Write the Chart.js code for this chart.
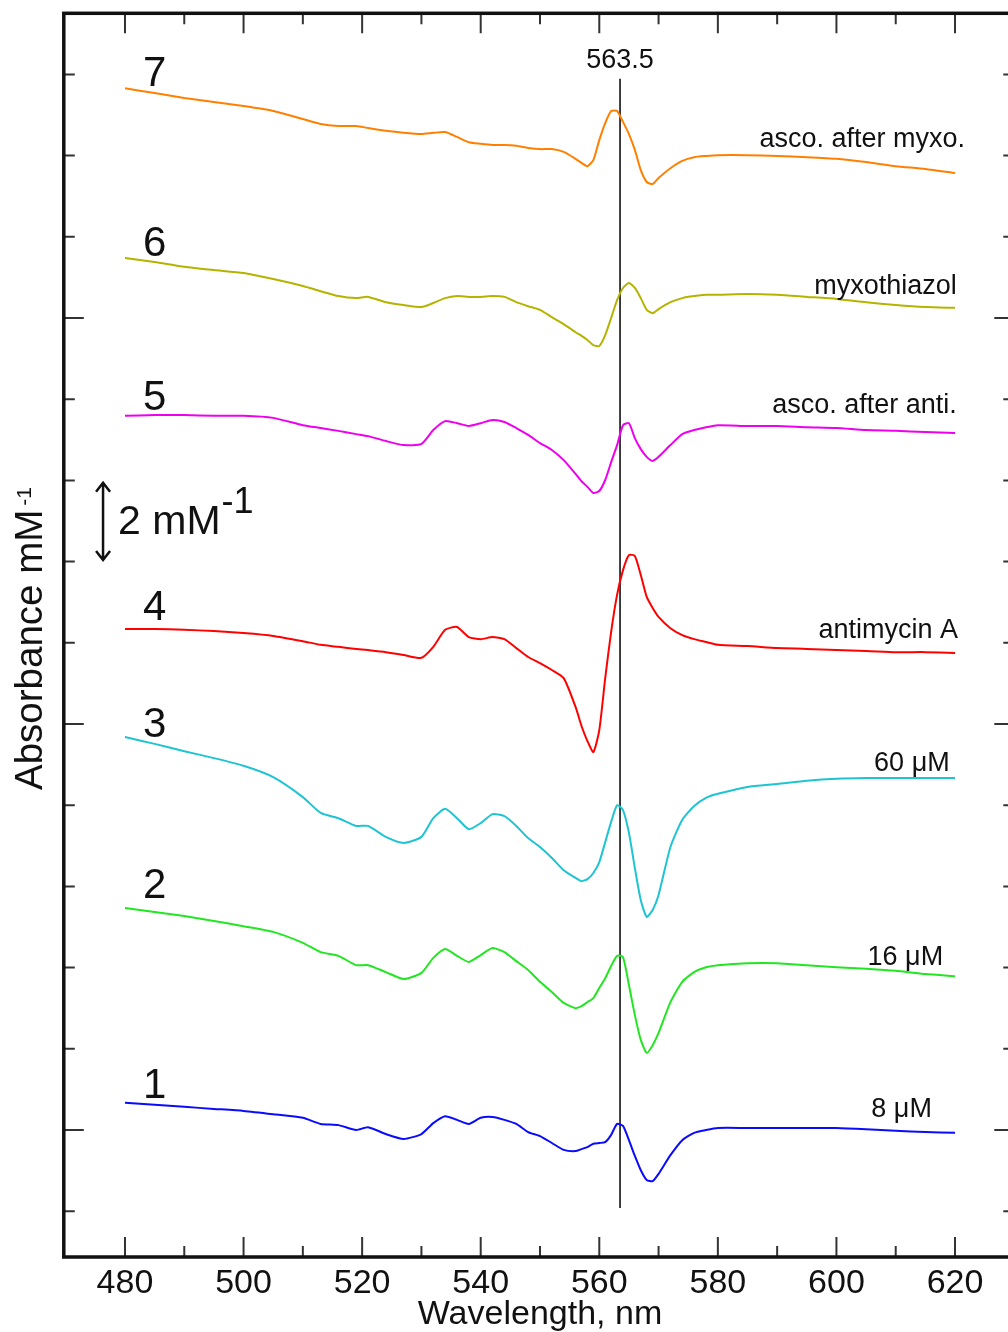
<!DOCTYPE html>
<html><head><meta charset="utf-8">
<script src="https://cdn.jsdelivr.net/npm/chart.js@4.4.0/dist/chart.umd.min.js"></script>
<style>
html,body{margin:0;padding:0;background:#fff;overflow:hidden;width:1008px;height:1332px}
canvas{display:block}
</style></head>
<body><canvas id="c" width="1030" height="1332"></canvas>
<script>
// Wavelength grid (nm)
const wavelengths = [480,485,490,495,500,505,510,513,516,519,521,524,527,530,532,534,536,538,540,542,544,546,548,550,552,554,556,557,558,559,560,561,562,563,564,565,566,567,568,569,570,572,574,576,578,580,585,590,595,600,605,610,615,620];

// Absorbance (mM^-1, traces offset vertically as in the figure)
const trace1 = [0.67,0.62,0.57,0.52,0.47,0.39,0.30,0.15,0.12,0.00,0.07,-0.10,-0.22,-0.10,0.17,0.34,0.25,0.15,0.30,0.32,0.25,0.15,-0.05,-0.15,-0.32,-0.49,-0.52,-0.47,-0.42,-0.34,-0.32,-0.30,-0.12,0.15,0.10,-0.25,-0.64,-0.99,-1.23,-1.26,-1.08,-0.62,-0.25,-0.07,0.00,0.05,0.05,0.05,0.05,0.05,0.02,-0.02,-0.05,-0.07];
const trace2 = [5.47,5.37,5.27,5.15,5.02,4.88,4.61,4.38,4.29,4.06,4.06,3.89,3.72,3.87,4.24,4.46,4.29,4.14,4.31,4.48,4.38,4.16,3.94,3.65,3.40,3.13,3.00,3.05,3.15,3.25,3.50,3.74,4.04,4.29,4.26,3.57,2.83,2.22,1.90,2.09,2.39,3.15,3.65,3.89,4.01,4.06,4.11,4.11,4.06,4.01,3.97,3.92,3.84,3.79];
const trace3 = [9.68,9.51,9.33,9.16,8.97,8.69,8.20,7.81,7.68,7.49,7.49,7.22,7.07,7.22,7.68,7.91,7.68,7.41,7.56,7.78,7.73,7.49,7.19,6.97,6.70,6.40,6.21,6.13,6.18,6.33,6.60,7.09,7.59,8.00,7.88,7.32,6.45,5.66,5.25,5.42,5.79,6.97,7.64,7.98,8.18,8.28,8.45,8.52,8.60,8.65,8.67,8.67,8.67,8.67];
const trace4 = [12.34,12.34,12.32,12.29,12.24,12.17,12.04,11.95,11.90,11.85,11.82,11.77,11.70,11.63,11.90,12.32,12.39,12.14,12.09,12.14,12.09,11.87,11.65,11.50,11.33,11.13,10.42,9.95,9.58,9.31,9.85,11.13,12.27,13.18,13.79,14.16,14.14,13.67,13.13,12.86,12.64,12.36,12.19,12.09,12.02,11.95,11.92,11.87,11.85,11.82,11.80,11.77,11.77,11.75];
const trace5 = [17.59,17.61,17.61,17.59,17.59,17.54,17.36,17.29,17.22,17.14,17.09,16.97,16.87,16.90,17.24,17.46,17.41,17.34,17.41,17.49,17.44,17.29,17.12,16.92,16.75,16.50,16.16,15.98,15.84,15.69,15.74,16.01,16.45,16.87,17.36,17.41,17.04,16.77,16.58,16.48,16.58,16.87,17.14,17.24,17.31,17.36,17.34,17.34,17.31,17.29,17.24,17.22,17.19,17.17];
const trace6 = [21.48,21.38,21.26,21.18,21.11,20.96,20.79,20.66,20.54,20.49,20.52,20.39,20.32,20.27,20.37,20.49,20.54,20.52,20.52,20.54,20.52,20.39,20.29,20.20,20.02,19.85,19.65,19.56,19.46,19.33,19.31,19.58,20.00,20.44,20.74,20.86,20.74,20.49,20.20,20.12,20.22,20.39,20.49,20.54,20.57,20.57,20.59,20.57,20.52,20.47,20.39,20.32,20.27,20.25];
const trace7 = [25.66,25.54,25.42,25.32,25.22,25.10,24.90,24.78,24.73,24.73,24.68,24.61,24.56,24.53,24.56,24.58,24.46,24.33,24.29,24.26,24.26,24.24,24.19,24.16,24.16,24.09,23.92,23.82,23.74,23.89,24.38,24.80,25.10,25.10,24.83,24.53,24.14,23.64,23.35,23.30,23.45,23.69,23.87,23.96,23.99,24.01,24.01,23.99,23.96,23.92,23.84,23.74,23.67,23.57];

const traces = [trace1, trace2, trace3, trace4, trace5, trace6, trace7];
const traceColors = ['#0a0aff','#22e622','#1ec4d2','#ff0000','#ee00ee','#b4b400','#ff8000'];
const traceNumbers = ['1','2','3','4','5','6','7'];
const traceNumberY = [0.79, 5.71, 9.68, 12.56, 17.73, 21.53, 25.71];
const traceNotes = ['8 \u03bcM','16 \u03bcM','60 \u03bcM','antimycin A','asco. after anti.','myxothiazol','asco. after myxo.'];
const traceNoteX = [616.1, 618.0, 619.1, 620.5, 620.3, 620.3, 621.7];
const traceNoteY = [0.32, 4.06, 8.84, 12.12, 17.66, 20.59, 24.21];

const xTickValues = [480,490,500,510,520,530,540,550,560,570,580,590,600,610,620];
const xTickLabels = [480,500,520,540,560,580,600,620];
const yTickValues = [-2,0,2,4,6,8,10,12,14,16,18,20,22,24,26];
const yMajorTicks = [0,10,20];

const markerWavelength = 563.5;
const markerRange = [-1.92, 25.89];
const scaleBar = {x: 476.3, from: 14.04, to: 15.94, label: '2 mM', sup: '-1'};

const FONT = '"Liberation Sans", Arial, Helvetica, sans-serif';

const datasets = traces.map((t, i) => ({
  data: wavelengths.map((w, j) => ({x: w, y: t[j]})),
  borderColor: traceColors[i],
  borderWidth: 2,
  pointRadius: 0,
  tension: 0.2,
  fill: false
}));
datasets.push({
  data: markerRange.map(v => ({x: markerWavelength, y: v})),
  borderColor: '#000',
  borderWidth: 1.5,
  pointRadius: 0,
  fill: false
});

const decor = {
  id: 'decor',
  afterDraw(chart) {
    const ctx = chart.ctx, xs = chart.scales.x, ys = chart.scales.y, a = chart.chartArea;
    ctx.save();
    // ticks (inward, all four sides)
    ctx.strokeStyle = '#333';
    ctx.lineWidth = 2;
    xTickValues.forEach(v => {
      const px = xs.getPixelForValue(v);
      const len = (v % 20 === 0) ? 20 : 11;
      ctx.beginPath();
      ctx.moveTo(px, a.bottom); ctx.lineTo(px, a.bottom - len);
      ctx.moveTo(px, a.top); ctx.lineTo(px, a.top + len);
      ctx.stroke();
    });
    yTickValues.forEach(v => {
      const py = ys.getPixelForValue(v);
      const len = yMajorTicks.includes(v) ? 20 : 11;
      ctx.beginPath();
      ctx.moveTo(a.left, py); ctx.lineTo(a.left + len, py);
      ctx.moveTo(a.right, py); ctx.lineTo(a.right - len, py);
      ctx.stroke();
    });
    // frame
    ctx.strokeStyle = '#111';
    ctx.lineWidth = 3.5;
    ctx.strokeRect(a.left, a.top, a.right - a.left, a.bottom - a.top);

    ctx.fillStyle = '#111';
    // trace numbers
    ctx.font = '42px ' + FONT;
    ctx.textAlign = 'center';
    ctx.textBaseline = 'alphabetic';
    traceNumbers.forEach((n, i) => {
      ctx.fillText(n, xs.getPixelForValue(485), ys.getPixelForValue(traceNumberY[i]));
    });
    // trace notes
    ctx.font = '27px ' + FONT;
    ctx.textAlign = 'right';
    traceNotes.forEach((n, i) => {
      ctx.fillText(n, xs.getPixelForValue(traceNoteX[i]), ys.getPixelForValue(traceNoteY[i]));
    });
    // marker label
    ctx.textAlign = 'center';
    ctx.font = '27px ' + FONT;
    ctx.fillText(String(markerWavelength), xs.getPixelForValue(markerWavelength), ys.getPixelForValue(26.16));

    // scale bar arrow
    const bx = xs.getPixelForValue(scaleBar.x);
    const y1 = ys.getPixelForValue(scaleBar.to), y2 = ys.getPixelForValue(scaleBar.from);
    ctx.strokeStyle = '#111';
    ctx.lineWidth = 2.5;
    ctx.beginPath();
    ctx.moveTo(bx, y1); ctx.lineTo(bx, y2);
    ctx.moveTo(bx - 7, y1 + 9); ctx.lineTo(bx, y1); ctx.lineTo(bx + 7, y1 + 9);
    ctx.moveTo(bx - 7, y2 - 9); ctx.lineTo(bx, y2); ctx.lineTo(bx + 7, y2 - 9);
    ctx.stroke();
    ctx.textAlign = 'left';
    ctx.font = '41px ' + FONT;
    const tx = bx + 15, ty = ys.getPixelForValue(14.68);
    ctx.fillText(scaleBar.label, tx, ty);
    const w = ctx.measureText(scaleBar.label).width;
    ctx.font = '36px ' + FONT;
    ctx.fillText(scaleBar.sup, tx + w + 1, ty - 21);

    // x title
    ctx.font = '34px ' + FONT;
    ctx.textAlign = 'center';
    ctx.fillText('Wavelength, nm', xs.getPixelForValue(550), 1324);

    // y title
    ctx.save();
    ctx.translate(42, 790);
    ctx.rotate(-Math.PI / 2);
    ctx.textAlign = 'left';
    ctx.font = '38.5px ' + FONT;
    ctx.fillText('Absorbance mM', 0, 0);
    const tw = ctx.measureText('Absorbance mM').width;
    ctx.font = '21px ' + FONT;
    ctx.fillText('-1', tw + 4, -11);
    ctx.restore();

    ctx.restore();
  }
};

new Chart(document.getElementById('c'), {
  type: 'line',
  data: {datasets},
  plugins: [decor],
  options: {
    responsive: false,
    animation: false,
    devicePixelRatio: 1,
    layout: {padding: {left: 0, top: 13.3, right: 15.7, bottom: 0}},
    plugins: {legend: {display: false}, tooltip: {enabled: false}},
    scales: {
      x: {
        type: 'linear', min: 469.68, max: 630,
        grid: {display: false, drawTicks: false},
        border: {display: false},
        afterBuildTicks: s => { s.ticks = xTickLabels.map(v => ({value: v})); },
        afterFit: s => { s.height = 75; },
        ticks: {color: '#111', font: {family: FONT, size: 34}, padding: 6, maxRotation: 0, autoSkip: false}
      },
      y: {
        type: 'linear', min: -3.128, max: 27.505,
        grid: {display: false, drawTicks: false},
        border: {display: false},
        ticks: {display: false},
        afterFit: s => { s.width = 63.8; }
      }
    }
  }
});
</script>
</body></html>
